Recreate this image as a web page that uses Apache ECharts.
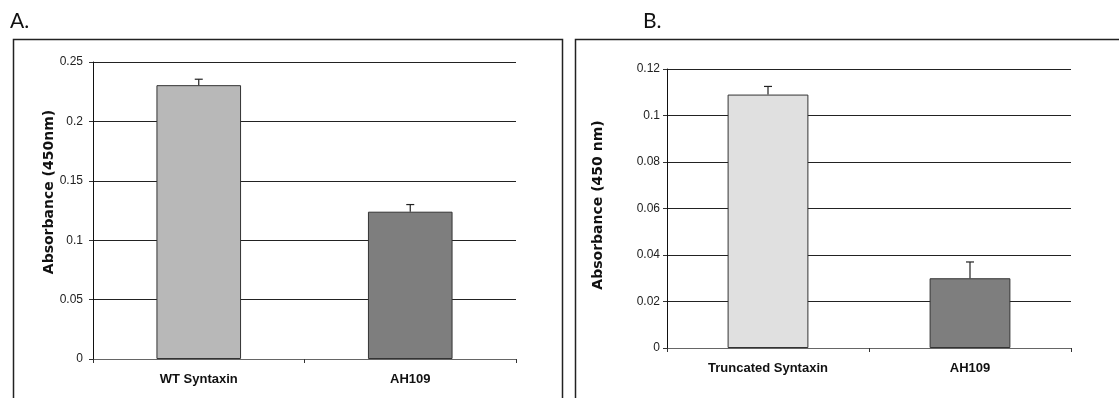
<!DOCTYPE html>
<html>
<head>
<meta charset="utf-8">
<title>Absorbance (450 nm) — A / B</title>
<script src="https://cdn.jsdelivr.net/npm/echarts@6/dist/echarts.min.js"></script>
<style>
  html, body { margin: 0; padding: 0; background: #fff; }
  #chart { width: 1119px; height: 398px; }
</style>
</head>
<body>
<div id="chart"></div>
<script>
// ── Data ────────────────────────────────────────
var categoriesA = ['WT Syntaxin', 'AH109'];
var valuesA     = [0.2305, 0.124];
var errorsA     = [0.005, 0.006];

var categoriesB = ['Truncated Syntaxin', 'AH109'];
var valuesB     = [0.109, 0.030];
var errorsB     = [0.0035, 0.007];

var colorsA = ['#b8b8b8', '#7e7e7e'];
var colorsB = ['#e0e0e0', '#7e7e7e'];

// ── Helpers ─────────────────────────────────────
var FONT = '"Liberation Sans", Arial, sans-serif';
var NAME_FONT = 'bold 14px "DejaVu Sans", sans-serif';

function barData(values, colors) {
    return values.map(function (v, i) {
        return { value: v, itemStyle: { color: colors[i] } };
    });
}

function errorData(values, errors) {
    return values.map(function (v, i) { return [i, v, v + errors[i]]; });
}

// one-sided (upward) error bar with a cap
function renderError(params, api) {
    var base = api.coord([api.value(0), api.value(1)]);
    var top  = api.coord([api.value(0), api.value(2)]);
    var half = 4;
    var style = { stroke: '#222', lineWidth: 1.2 };
    return {
        type: 'group',
        children: [
            { type: 'line', shape: { x1: base[0], y1: base[1], x2: top[0], y2: top[1] }, style: style },
            { type: 'line', shape: { x1: top[0] - half, y1: top[1], x2: top[0] + half, y2: top[1] }, style: style }
        ]
    };
}

function yAxis(gridIndex, max, interval, margin) {
    return {
        type: 'value',
        gridIndex: gridIndex,
        min: 0, max: max, interval: interval,
        axisLine: { show: true, lineStyle: { color: '#111', width: 1 } },
        axisTick: { show: true, length: 4, lineStyle: { color: '#333' } },
        axisLabel: { fontFamily: FONT, fontSize: 12, color: '#222', margin: margin },
        splitLine: { show: true, lineStyle: { color: '#222', width: 1 } }
    };
}

function xAxis(gridIndex, cats) {
    return {
        type: 'category',
        gridIndex: gridIndex,
        data: cats,
        axisLine: { show: true, lineStyle: { color: '#666', width: 1 } },
        axisTick: { show: true, length: 4, lineStyle: { color: '#333' } },
        axisLabel: { fontFamily: FONT, fontWeight: 'bold', fontSize: 13, color: '#111', margin: 14 }
    };
}

function axisName(text, x, y) {
    return {
        type: 'text', x: x, y: y, rotation: Math.PI / 2,
        style: { text: text, font: NAME_FONT, fill: '#111', align: 'center', verticalAlign: 'middle' }
    };
}

// ── Chart ───────────────────────────────────────
var chart = echarts.init(document.getElementById('chart'), null, { renderer: 'canvas' });

var option = {
    backgroundColor: '#fff',
    animation: false,
    graphic: [
        { type: 'text', left: 10, top: 11, style: { text: 'A.', font: '21px Lato, "Open Sans", sans-serif', fill: '#111' } },
        { type: 'text', left: 643, top: 11, style: { text: 'B.', font: '21px Lato, "Open Sans", sans-serif', fill: '#111' } },
        { type: 'rect', shape: { x: 13.5, y: 39.5, width: 549, height: 400 }, style: { fill: 'none', stroke: '#222', lineWidth: 1.5 } },
        { type: 'rect', shape: { x: 575.5, y: 39.5, width: 560, height: 400 }, style: { fill: 'none', stroke: '#222', lineWidth: 1.5 } },
        axisName('Absorbance (450nm)', 49, 192),
        axisName('Absorbance (450 nm)', 598, 205)
    ],
    grid: [
        { left: 93, top: 62, width: 423, height: 297 },
        { left: 667, top: 69, width: 404, height: 279 }
    ],
    xAxis: [xAxis(0, categoriesA), xAxis(1, categoriesB)],
    yAxis: [yAxis(0, 0.25, 0.05, 10), yAxis(1, 0.12, 0.02, 7)],
    series: [
        {
            type: 'bar', xAxisIndex: 0, yAxisIndex: 0,
            data: barData(valuesA, colorsA),
            barCategoryGap: '60%',
            itemStyle: { borderColor: '#333', borderWidth: 1 },
            z: 3
        },
        {
            type: 'custom', xAxisIndex: 0, yAxisIndex: 0,
            data: errorData(valuesA, errorsA),
            renderItem: renderError,
            z: 4
        },
        {
            type: 'bar', xAxisIndex: 1, yAxisIndex: 1,
            data: barData(valuesB, colorsB),
            barCategoryGap: '60%',
            itemStyle: { borderColor: '#333', borderWidth: 1 },
            z: 3
        },
        {
            type: 'custom', xAxisIndex: 1, yAxisIndex: 1,
            data: errorData(valuesB, errorsB),
            renderItem: renderError,
            z: 4
        }
    ]
};

chart.setOption(option);
</script>
</body>
</html>
